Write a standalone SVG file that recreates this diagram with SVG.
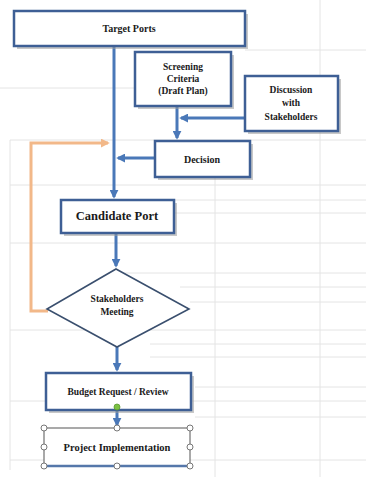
<svg xmlns="http://www.w3.org/2000/svg" width="366" height="477" viewBox="0 0 366 477">
<defs>
<style>
.grid line{stroke:#e4e4e4;stroke-width:1}
.box{fill:#ffffff;stroke:#3e5f95;stroke-width:2.5}
.shadow{fill:#9a9a9a;opacity:0.55}
.t{font-family:"Liberation Serif","Times New Roman",serif;font-weight:bold;fill:#1a1a1a;text-anchor:middle}
.c{stroke:#4a78b8;stroke-width:3;fill:none}
.o{stroke:#f2b889;stroke-width:3;fill:none}
.h{fill:#ffffff;stroke:#777;stroke-width:1}
</style>
<marker id="ab" viewBox="0 0 10 10" refX="8" refY="5" markerWidth="3" markerHeight="3" orient="auto" markerUnits="strokeWidth">
<path d="M0,0 L10,5 L0,10 z" fill="#4a78b8"/>
</marker>
<marker id="ao" viewBox="0 0 10 10" refX="8" refY="5" markerWidth="3" markerHeight="3" orient="auto" markerUnits="strokeWidth">
<path d="M0,0 L10,5 L0,10 z" fill="#f2b889"/>
</marker>
</defs>
<rect width="366" height="477" fill="#ffffff"/>
<g class="grid">
<line x1="10" y1="140" x2="10" y2="470"/>
<line x1="215" y1="175" x2="215" y2="477"/>
<line x1="320" y1="0" x2="320" y2="477"/>
<line x1="245" y1="50" x2="366" y2="50"/>
<line x1="0" y1="88" x2="135" y2="88"/>
<line x1="10" y1="140" x2="366" y2="140"/>
<line x1="10" y1="185" x2="366" y2="185"/>
<line x1="175" y1="200" x2="366" y2="200"/>
<line x1="175" y1="213" x2="366" y2="213"/>
<line x1="10" y1="243" x2="366" y2="243"/>
<line x1="120" y1="273" x2="366" y2="273"/>
<line x1="180" y1="287" x2="366" y2="287"/>
<line x1="190" y1="302" x2="366" y2="302"/>
<line x1="10" y1="330" x2="366" y2="330"/>
<line x1="150" y1="344" x2="366" y2="344"/>
<line x1="150" y1="357" x2="366" y2="357"/>
<line x1="195" y1="387" x2="366" y2="387"/>
<line x1="10" y1="401" x2="366" y2="401"/>
<line x1="195" y1="417" x2="366" y2="417"/>
<line x1="10" y1="460" x2="366" y2="460"/>
</g>
<g id="connectors">
<path class="c" d="M114,47 V197" marker-end="url(#ab)"/>
<path class="c" d="M177,106 V138" marker-end="url(#ab)"/>
<path class="c" d="M245,118 H181" marker-end="url(#ab)"/>
<path class="c" d="M155,158 H118" marker-end="url(#ab)"/>
<path class="o" d="M48,311 H31 V143 H108" marker-end="url(#ao)"/>
<path class="c" d="M116,233 V266" marker-end="url(#ab)"/>
<path class="c" d="M117,347 V370" marker-end="url(#ab)"/>
<path class="c" d="M117,407 V425" marker-end="url(#ab)"/>
</g>
<g id="target-ports">
<rect class="shadow" x="17" y="14" width="231" height="35"/>
<rect class="box" x="14" y="11" width="231" height="35"/>
<text class="t" x="129" y="32" font-size="10">Target Ports</text>
</g>
<g id="screening-criteria">
<rect class="shadow" x="138" y="55" width="96" height="54"/>
<rect class="box" x="135" y="52" width="96" height="54"/>
<text class="t" x="183" y="70" font-size="9.5">Screening</text>
<text class="t" x="183" y="82" font-size="9.5">Criteria</text>
<text class="t" x="183" y="94" font-size="9.5">(Draft  Plan)</text>
</g>
<g id="discussion">
<rect class="shadow" x="248" y="79" width="93" height="55"/>
<rect class="box" x="245" y="76" width="93" height="55"/>
<text class="t" x="291" y="93" font-size="9.5">Discussion</text>
<text class="t" x="291" y="106" font-size="9.5">with</text>
<text class="t" x="291" y="120" font-size="9.5">Stakeholders</text>
</g>
<g id="decision">
<rect class="shadow" x="158" y="144" width="95" height="36"/>
<rect class="box" x="155" y="141" width="95" height="36"/>
<text class="t" x="202" y="163" font-size="10">Decision</text>
</g>
<g id="candidate-port">
<rect class="shadow" x="64" y="203" width="113" height="33"/>
<rect class="box" x="61" y="200" width="113" height="33"/>
<text class="t" x="117" y="220" font-size="12.5">Candidate  Port</text>
</g>
<g id="stakeholders-meeting">
<polygon points="116,269 189,309 117,347 47,309" fill="#ffffff" stroke="#3a4f6e" stroke-width="1.6"/>
<text class="t" x="117" y="302" font-size="9.5">Stakeholders</text>
<text class="t" x="117" y="315" font-size="9.5">Meeting</text>
</g>
<g id="budget-request">
<rect class="shadow" x="49" y="376" width="145" height="37"/>
<rect class="box" x="46" y="373" width="145" height="37"/>
<text class="t" x="118" y="395" font-size="9.5">Budget Request / Review</text>
<circle cx="117" cy="407" r="3" fill="#7cc142" stroke="#5a9a30" stroke-width="0.8"/>
</g>
<g id="project-implementation">
<rect x="44" y="428" width="146" height="38" fill="#ffffff" stroke="#555" stroke-width="1"/>
<line x1="44" y1="466" x2="190" y2="466" stroke="#5577aa" stroke-width="2.5"/>
<text class="t" x="117" y="451" font-size="10.5">Project Implementation</text>
<circle class="h" cx="44" cy="428" r="3"/>
<circle class="h" cx="117" cy="428" r="3"/>
<circle class="h" cx="190" cy="428" r="3"/>
<circle class="h" cx="44" cy="447" r="3"/>
<circle class="h" cx="190" cy="447" r="3"/>
<circle class="h" cx="44" cy="466" r="3"/>
<circle class="h" cx="117" cy="466" r="3"/>
<circle class="h" cx="190" cy="466" r="3"/>
</g>
</svg>
